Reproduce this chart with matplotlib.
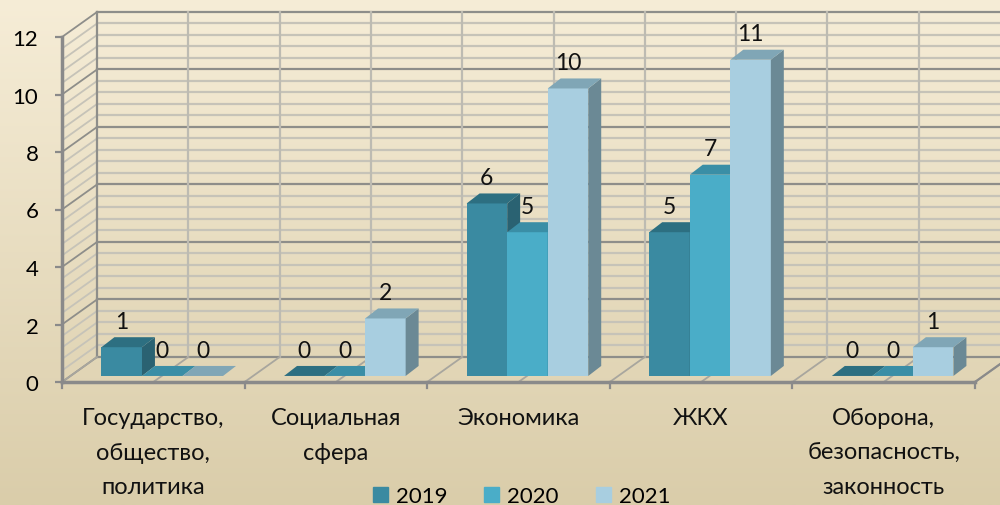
import numpy as np
import matplotlib.pyplot as plt
from matplotlib.patches import Polygon, Patch
from matplotlib.colors import LinearSegmentedColormap

# Data
categories = ['Государство,\nобщество,\nполитика', 'Социальная\nсфера', 'Экономика',
              'ЖКХ', 'Оборона,\nбезопасность,\nзаконность']
years = ['2019', '2020', '2021']
v2019 = [1, 0, 6, 5, 0]
v2020 = [0, 0, 5, 7, 0]
v2021 = [0, 2, 10, 11, 1]
values = [v2019, v2020, v2021]

front_colors = ['#3A8AA1', '#4AADC8', '#A8CEE0']
top_colors = ['#2D6F81', '#3A8EA6', '#80A6B6']
side_colors = ['#2A6272', '#35809A', '#6B8995']

plt.rcParams['font.family'] = ['Lato', 'DejaVu Sans']

fig = plt.figure(figsize=(10, 5.06), dpi=100)

# beige gradient background
bg = fig.add_axes([0, 0, 1, 1])
grad = np.linspace(0, 1, 256).reshape(-1, 1)
cmap = LinearSegmentedColormap.from_list('bg', ['#F6EDD7', '#DACDAA'])
bg.imshow(grad, aspect='auto', cmap=cmap, extent=[0, 1, 0, 1])
bg.axis('off')

# front plane of the 3D chart
ax = fig.add_axes([0.062, 123 / 506, 0.913, 345 / 506])
ax.set_xlim(0, 5)
ax.set_ylim(0, 12)
ax.patch.set_alpha(0)
for s in ax.spines.values():
    s.set_visible(False)

DX, DY = 0.192, 0.87   # wall depth in data units
major_c, minor_c, axis_c = '#8E8E8A', '#C6C3B8', '#8A8A8A'

# back wall + left wall gridlines
for y in np.arange(0, 12.01, 0.4):
    major = abs(y / 2 - round(y / 2)) < 1e-6
    c = major_c if major else minor_c
    ax.plot([DX, 5 + DX], [y + DY, y + DY], color=c, lw=1.6, clip_on=False, zorder=1)
    ax.plot([0, DX], [y, y + DY], color=c, lw=1.3, clip_on=False, zorder=1)
for k in np.arange(0, 5.01, 0.5):
    c = major_c if k == 0 else '#BDBBB2'
    ax.plot([k + DX, k + DX], [DY, 12 + DY], color=c, lw=1.6, clip_on=False, zorder=1)
    ax.plot([k, k + DX], [0, DY], color='#A8A69E', lw=1.3, clip_on=False, zorder=1)
ax.plot([5, 5 + DX], [0, DY], color=axis_c, lw=1.6, clip_on=False, zorder=1)

# front axes lines
ax.plot([0, 5], [0, 0], color=axis_c, lw=2.5, clip_on=False, zorder=2)
ax.plot([0, 0], [0, 12], color=axis_c, lw=2.5, clip_on=False, zorder=2)
for k in range(6):
    ax.plot([k, k], [0, -0.22], color=axis_c, lw=1.6, clip_on=False, zorder=2)

ax.set_xticks([])
ax.set_yticks(range(0, 13, 2))
ax.tick_params(axis='y', length=5, width=1.6, color=axis_c, pad=12, labelsize=16)

# bars
W = 0.222
b = 0.21
ddx, ddy = 0.071, 0.348
z = 3
for i in range(len(categories)):
    for j in range(len(years)):
        h = values[j][i]
        x0 = i + 0.17 + j * W + 0.046
        x1 = x0 + W
        if h > 0:
            ax.bar(x0, h, width=W, bottom=b, align='edge', color=front_colors[j],
                   zorder=z, linewidth=0)
            ax.add_patch(Polygon([(x1, b), (x1, b + h), (x1 + ddx, b + h + ddy), (x1 + ddx, b + ddy)],
                                 closed=True, color=side_colors[j], lw=0, zorder=z))
        ax.add_patch(Polygon([(x0, b + h), (x1, b + h), (x1 + ddx, b + h + ddy), (x0 + ddx, b + h + ddy)],
                             closed=True, color=top_colors[j], lw=0, zorder=z))
        z += 1
        ax.annotate(str(h), (x0 + W / 2, b + h), xytext=(0, 14), textcoords='offset points',
                    ha='center', va='baseline', fontsize=16.5, color='#111111', zorder=50)

# category labels
for i, cat in enumerate(categories):
    ax.annotate(cat, (i + 0.5, 0), xytext=(0, -18), textcoords='offset points',
                ha='center', va='top', fontsize=17, linespacing=1.8, color='#111111',
                annotation_clip=False)

handles = [Patch(color=c) for c in front_colors]
fig.legend(handles, years, loc='center', bbox_to_anchor=(0.5215, 1 - 497 / 506), ncol=3,
           frameon=False, fontsize=16, handlelength=0.68, handleheight=0.68,
           handletextpad=0.36, columnspacing=1.66, borderpad=0)

fig.savefig('out.png', dpi=100)
